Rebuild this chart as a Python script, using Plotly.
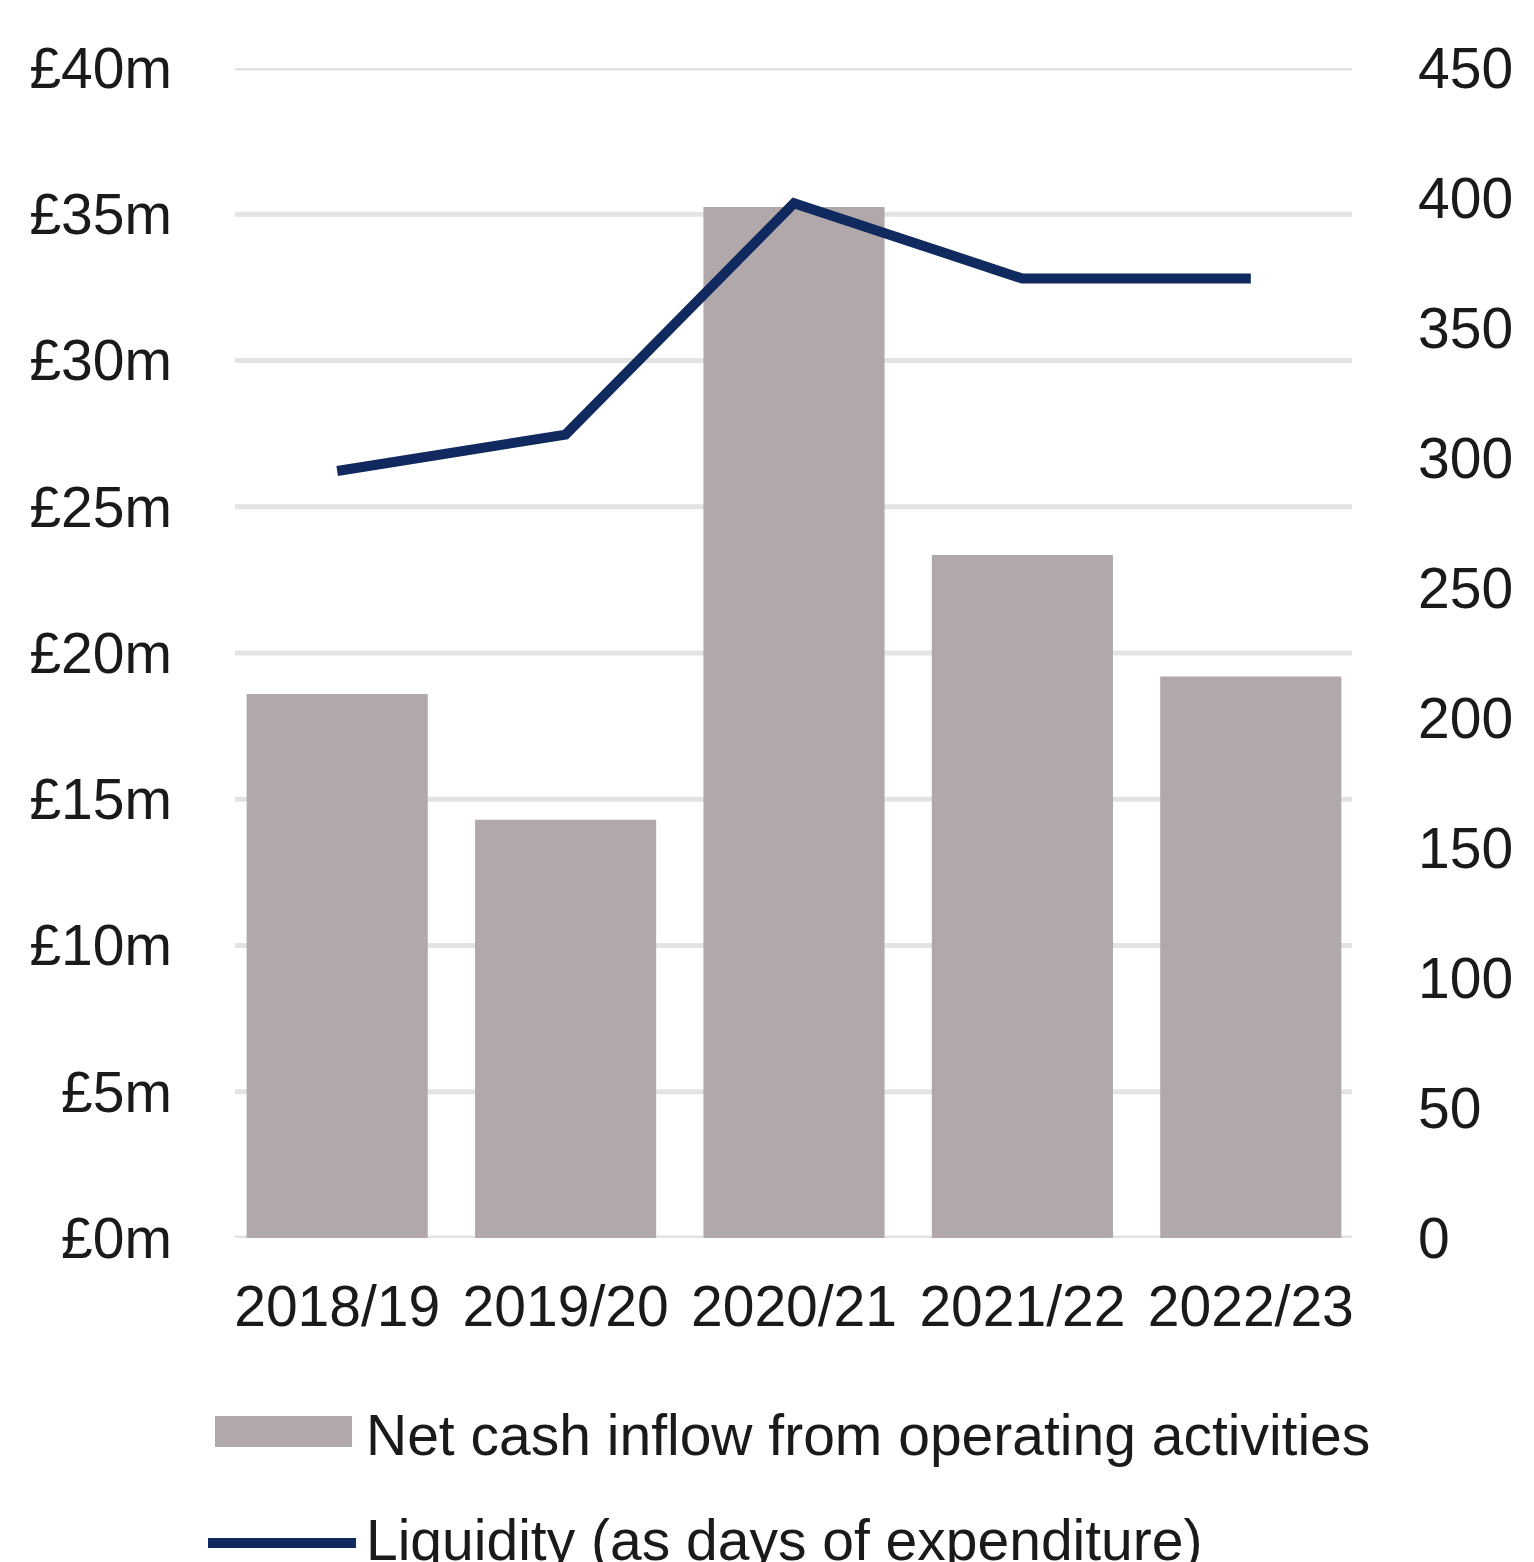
import plotly.graph_objects as go

# Financial years shown on the category axis
years = ["2018/19", "2019/20", "2020/21", "2021/22", "2022/23"]

# Net cash inflow from operating activities, £m (left axis)
net_cash_inflow = [18.6, 14.3, 35.25, 23.35, 19.2]

# Liquidity expressed as days of expenditure (right axis)
liquidity_days = [295, 309, 398, 369, 369]

# Axis tick values and labels
money_ticks = [0, 5, 10, 15, 20, 25, 30, 35, 40]
money_labels = [f"£{v}m" for v in money_ticks]
days_ticks = [0, 50, 100, 150, 200, 250, 300, 350, 400, 450]

bar_name = "Net cash inflow from operating activities"
line_name = "Liquidity (as days of expenditure)"

BAR_COLOR = "#B0A8AA"
LINE_COLOR = "#10295E"
GRID_COLOR = "#E3E3E3"
TEXT_COLOR = "#1A1A1A"
FONT = "Liberation Sans, Arial, sans-serif"
FS = 57

W, H = 1534, 1562
ML, MR, MT, MB = 223, 169, 68, 324
plot_w = W - ML - MR
plot_h = H - MT - MB


def px_x(px):
    return (px - ML) / plot_w


def px_y(py):
    return (H - MB - py) / plot_h


fig = go.Figure()

fig.add_trace(go.Bar(
    x=years, y=net_cash_inflow, name=bar_name,
    marker=dict(color=BAR_COLOR, line=dict(width=0)),
    yaxis="y", showlegend=False,
))

fig.add_trace(go.Scatter(
    x=years, y=liquidity_days, name=line_name, mode="lines",
    line=dict(color=LINE_COLOR, width=10),
    yaxis="y2", showlegend=False,
))

# Horizontal gridlines for every £5m step, slightly inset from the plot edges
shapes = [
    dict(type="line", xref="paper", yref="y",
         x0=px_x(235), x1=px_x(1352), y0=v, y1=v,
         line=dict(color=GRID_COLOR, width=5), layer="below")
    for v in money_ticks
]

# Legend keys drawn beneath the x axis
shapes += [
    dict(type="rect", xref="paper", yref="paper",
         x0=px_x(215), x1=px_x(352), y0=px_y(1447), y1=px_y(1416),
         fillcolor=BAR_COLOR, line=dict(width=0), layer="above"),
    dict(type="line", xref="paper", yref="paper",
         x0=px_x(208), x1=px_x(356), y0=px_y(1543), y1=px_y(1543),
         line=dict(color=LINE_COLOR, width=10), layer="above"),
]

annotations = [
    dict(text=bar_name, xref="paper", yref="paper",
         x=px_x(364), y=px_y(1435), xanchor="left", yanchor="middle",
         showarrow=False, font=dict(size=FS, color=TEXT_COLOR, family=FONT)),
    dict(text=line_name, xref="paper", yref="paper",
         x=px_x(364), y=px_y(1540), xanchor="left", yanchor="middle",
         showarrow=False, font=dict(size=FS, color=TEXT_COLOR, family=FONT)),
]

fig.update_layout(
    width=W, height=H,
    margin=dict(l=ML, r=MR, t=MT, b=MB, autoexpand=False),
    paper_bgcolor="white", plot_bgcolor="white",
    font=dict(family=FONT, size=FS, color=TEXT_COLOR),
    bargap=0.207,
    showlegend=False,
    shapes=shapes,
    annotations=annotations,
    xaxis=dict(
        type="category", range=[-0.5, 4.5],
        showgrid=False, zeroline=False, showline=False,
        ticks="", ticklabelstandoff=30,
        tickfont=dict(size=FS, color=TEXT_COLOR, family=FONT),
    ),
    yaxis=dict(
        range=[0, 40], tickvals=money_ticks, ticktext=money_labels,
        showgrid=False, zeroline=False, showline=False, ticks="",
        ticklabelstandoff=50,
        tickfont=dict(size=FS, color=TEXT_COLOR, family=FONT),
    ),
    yaxis2=dict(
        range=[0, 450], tickvals=days_ticks,
        overlaying="y", side="right",
        showgrid=False, zeroline=False, showline=False, ticks="",
        ticklabelstandoff=52,
        tickfont=dict(size=FS, color=TEXT_COLOR, family=FONT),
    ),
)

fig.write_html("out.html")
